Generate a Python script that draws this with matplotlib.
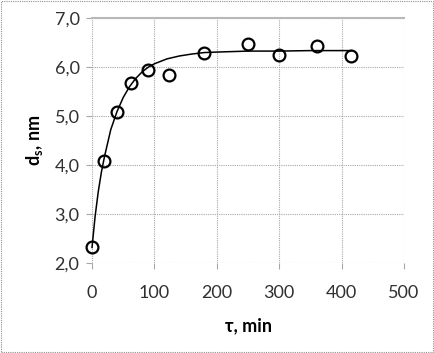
import matplotlib
matplotlib.use("Agg")
import matplotlib.pyplot as plt
from matplotlib.patches import Rectangle

plt.rcParams['font.family'] = ['Lato', 'DejaVu Sans']
plt.rcParams['mathtext.fontset'] = 'custom'
plt.rcParams['mathtext.rm'] = 'Lato'
plt.rcParams['mathtext.it'] = 'Lato:italic'
plt.rcParams['mathtext.bf'] = 'Lato:bold'

# measured data
tau = [0, 20, 40, 62, 90, 124, 180, 250, 300, 360, 415]
ds = [2.31, 4.09, 5.09, 5.68, 5.95, 5.84, 6.30, 6.48, 6.25, 6.44, 6.22]

# fitted curve
curve_tau = [0, 5, 10, 15, 20, 30, 40, 50, 60, 70, 80, 90, 100, 120, 140, 160, 180, 200, 250, 300, 350, 415]
curve_ds = [2.31, 2.95, 3.45, 3.85, 4.17, 4.72, 5.09, 5.38, 5.60, 5.77, 5.90, 6.00, 6.07, 6.17, 6.23, 6.27, 6.30, 6.31, 6.33, 6.33, 6.34, 6.34]

xticks = [0, 100, 200, 300, 400, 500]
yticks = [2.0, 3.0, 4.0, 5.0, 6.0, 7.0]
ytick_labels = ["2,0", "3,0", "4,0", "5,0", "6,0", "7,0"]

fig = plt.figure(figsize=(4.34, 3.53), dpi=100)
ax = fig.add_axes([0.212, 0.256, 0.719, 0.692])

ax.plot(curve_tau, curve_ds, color='black', lw=1.1, zorder=3, clip_on=False)
ax.plot(tau, ds, linestyle='none', marker='o', markersize=8.5, markerfacecolor='none',
        markeredgecolor='black', markeredgewidth=1.6, zorder=4, clip_on=False)

ax.set_xlim(0, 500)
ax.set_ylim(2.0, 7.0)
ax.set_xticks(xticks)
ax.set_xticklabels([str(t) for t in xticks])
ax.set_yticks(yticks)
ax.set_yticklabels(ytick_labels)

for s in ax.spines.values():
    s.set_visible(False)
ax.axhline(7.0, color='#b8b8b8', lw=1.5, zorder=1, clip_on=False)
ax.grid(True, color='#a8a8a8', linestyle=(0, (1, 1)), linewidth=0.8, zorder=0)
ax.set_axisbelow(True)
ax.tick_params(axis='both', length=4, color='#a8a8a8', labelsize=13, labelcolor='#303030')
ax.tick_params(axis='y', pad=5)
ax.tick_params(axis='x', pad=12)

ax.set_xlabel('τ, min', fontsize=13, fontweight='bold', labelpad=12)
ax.set_ylabel(r'$\mathbf{d_s}$, nm', fontsize=13, fontweight='bold', labelpad=7)

fig.patches.append(Rectangle((0.002, 0.003), 0.995, 0.994, transform=fig.transFigure,
                             fill=False, edgecolor='#909090', linestyle=(0, (1, 1)), lw=0.8))

fig.savefig('out.png', dpi=100)
